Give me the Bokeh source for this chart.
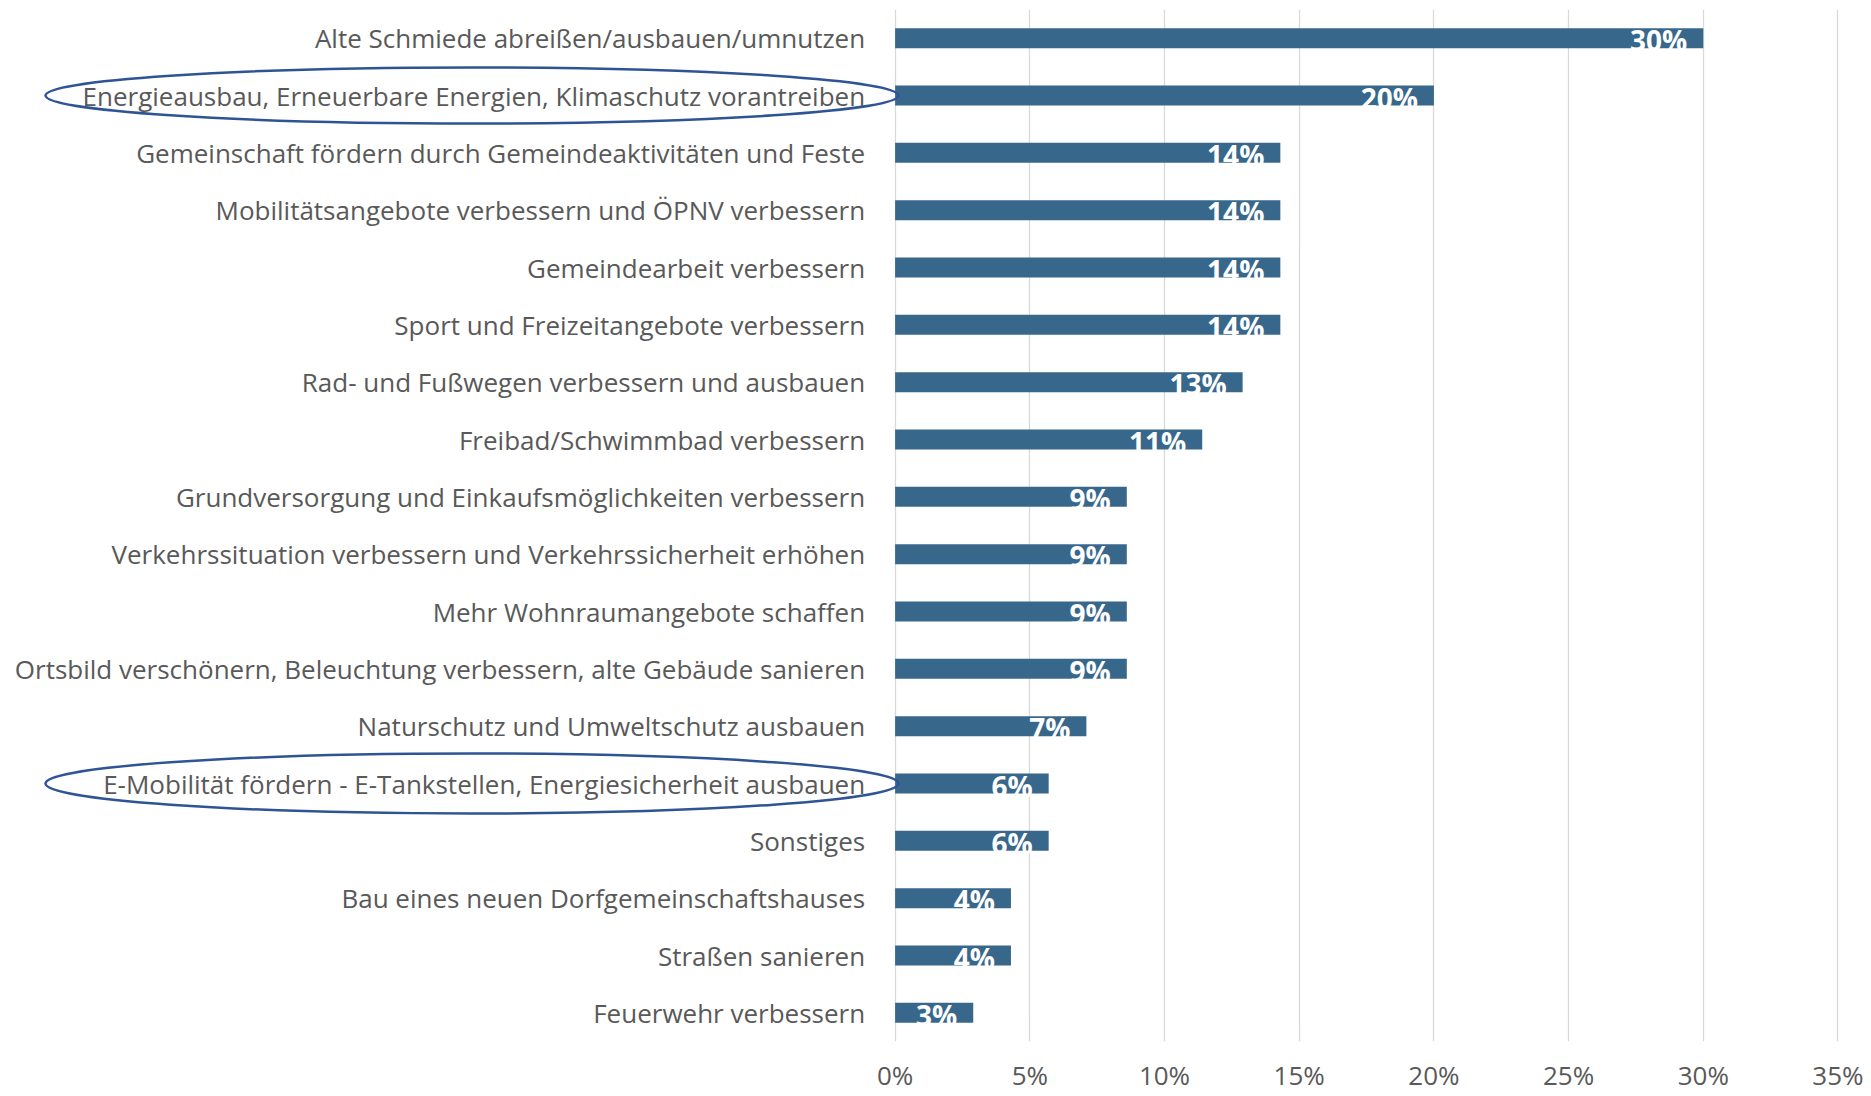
from bokeh.plotting import figure
from bokeh.models import Range1d, FactorRange, FixedTicker, ColumnDataSource
from bokeh.core.properties import value
from bokeh.embed import file_html
from bokeh.resources import INLINE

categories = [
    "Alte Schmiede abreißen/ausbauen/umnutzen",
    "Energieausbau, Erneuerbare Energien, Klimaschutz vorantreiben",
    "Gemeinschaft fördern durch Gemeindeaktivitäten und Feste",
    "Mobilitätsangebote verbessern und ÖPNV verbessern",
    "Gemeindearbeit verbessern",
    "Sport und Freizeitangebote verbessern",
    "Rad- und Fußwegen verbessern und ausbauen",
    "Freibad/Schwimmbad verbessern",
    "Grundversorgung und Einkaufsmöglichkeiten verbessern",
    "Verkehrssituation verbessern und Verkehrssicherheit erhöhen",
    "Mehr Wohnraumangebote schaffen",
    "Ortsbild verschönern, Beleuchtung verbessern, alte Gebäude sanieren",
    "Naturschutz und Umweltschutz ausbauen",
    "E-Mobilität fördern - E-Tankstellen, Energiesicherheit ausbauen",
    "Sonstiges",
    "Bau eines neuen Dorfgemeinschaftshauses",
    "Straßen sanieren",
    "Feuerwehr verbessern",
]
values = [30.0, 20.0, 14.3, 14.3, 14.3, 14.3, 12.9, 11.4, 8.6, 8.6,
          8.6, 8.6, 7.1, 5.7, 5.7, 4.3, 4.3, 2.9]
value_labels = ["30%", "20%", "14%", "14%", "14%", "14%", "13%", "11%", "9%", "9%",
                "9%", "9%", "7%", "6%", "6%", "4%", "4%", "3%"]
tick_values = [0, 5, 10, 15, 20, 25, 30, 35]
tick_labels = ["0%", "5%", "10%", "15%", "20%", "25%", "30%", "35%"]
highlighted = [
    "Energieausbau, Erneuerbare Energien, Klimaschutz vorantreiben",
    "E-Mobilität fördern - E-Tankstellen, Energiesicherheit ausbauen",
]

FONT = "Open Sans"
X_START, X_END = -33.21, 36.17
FRAME_W = 1869
PPU = FRAME_W / (X_END - X_START)

src = ColumnDataSource(dict(cat=categories, val=values, lab=value_labels,
                            zero=[0] * len(categories)))

p = figure(
    width=1871, height=1096,
    x_range=Range1d(X_START, X_END),
    y_range=FactorRange(factors=list(reversed(categories))),
    output_backend="svg", toolbar_location=None,
    y_axis_location=None,
    min_border_left=0, min_border_right=2, min_border_top=9, min_border_bottom=55,
)
p.outline_line_color = None
p.background_fill_color = "white"
p.ygrid.visible = False
p.xgrid.ticker = FixedTicker(ticks=tick_values)
p.xgrid.grid_line_color = "#D9D9D9"
p.xgrid.grid_line_width = 1.3

ax = p.xaxis[0]
ax.ticker = FixedTicker(ticks=tick_values)
ax.major_label_overrides = {t: l for t, l in zip(tick_values, tick_labels)}
ax.axis_line_color = None
ax.major_tick_line_color = None
ax.minor_tick_line_color = None
ax.major_tick_in = 0
ax.major_tick_out = 0
ax.major_label_standoff = 15
ax.major_label_text_font = FONT
ax.major_label_text_font_size = "26px"
ax.major_label_text_color = "#595959"

p.hbar(y="cat", right="val", left=0, height=0.35, source=src,
       fill_color="#38678C", line_color=None)

p.text(x="val", y="cat", text="lab", source=src, x_offset=-16, y_offset=2,
       text_align="right", text_baseline="middle",
       text_font=value(FONT), text_font_style="bold", text_font_size="28px",
       text_color="white")

p.text(x="zero", y="cat", text="cat", source=src, x_offset=-30,
       text_align="right", text_baseline="middle",
       text_font=value(FONT), text_font_size="26px", text_color="#595959")

ell_x = X_START + 471.5 / PPU
p.ellipse(x=[ell_x, ell_x], y=highlighted, width=[853, 853], height=[56, 60],
          width_units="screen", height_units="screen",
          fill_color=None, line_color="#2F5496", line_width=2.5)

open("out.html", "w").write(file_html(p, INLINE))
